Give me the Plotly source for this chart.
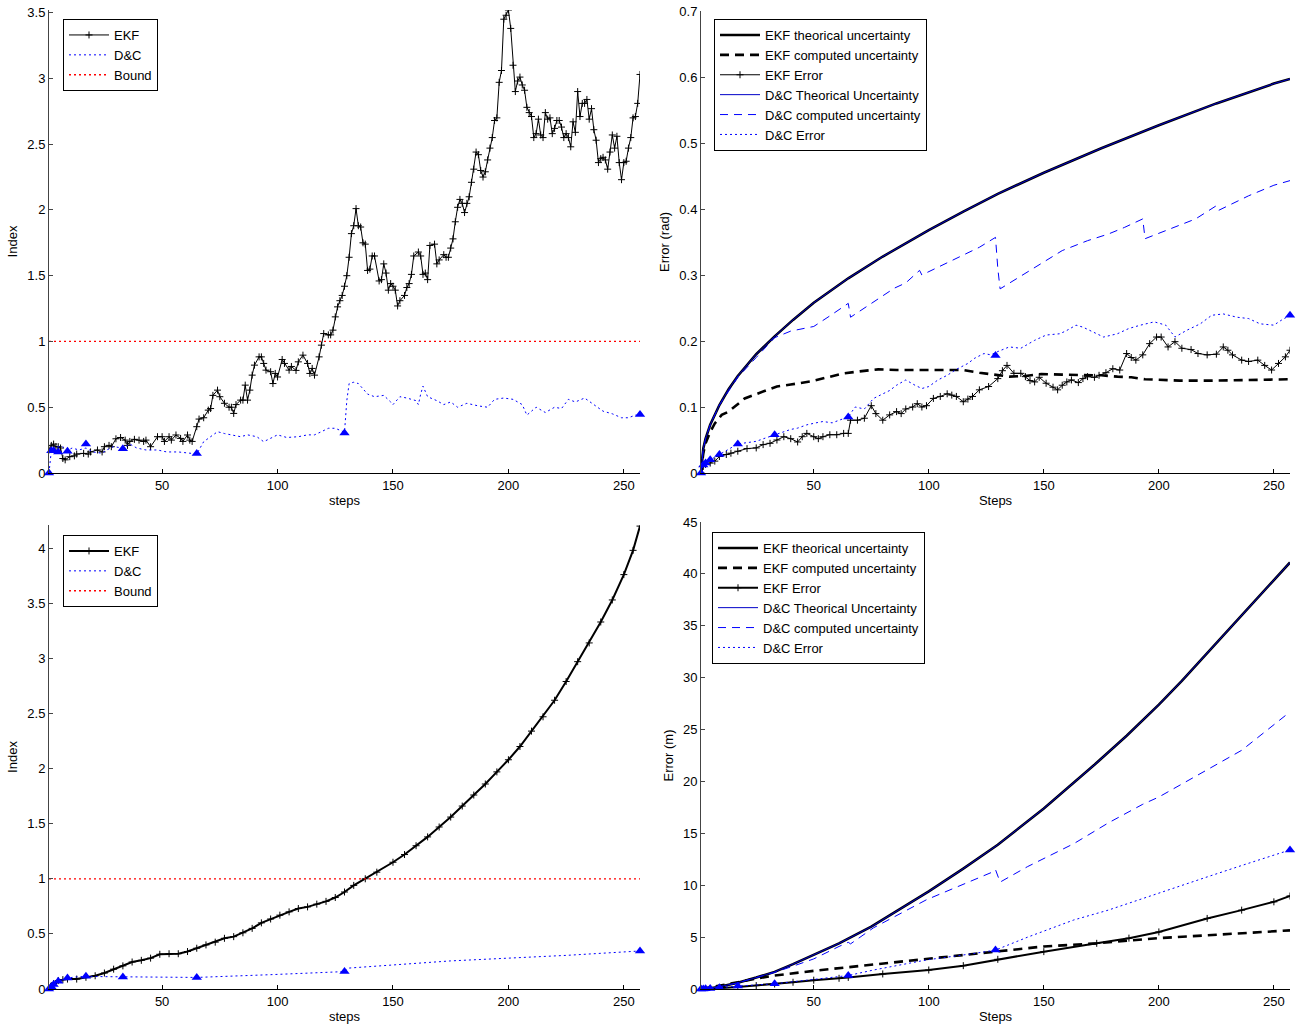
import plotly.graph_objects as go

# ---------------- data ----------------
MARK_STEPS = [1, 2, 3, 5, 9, 17, 33, 65, 129, 257]
BOUND_STEPS = [1, 257]
BOUND_VALUES = [1, 1]

# Top-left: index per step
TL_EKF_STEPS = [1, 2, 3, 4, 5, 6, 7, 8, 10, 12, 13, 16, 18, 19, 22, 24, 25, 27, 28, 30, 32, 34, 35, 36, 38, 40, 42, 43, 45, 48,
                50, 51, 53, 54, 56, 58, 59, 61, 62, 63, 65, 66, 68, 70, 71, 72, 74, 75, 77, 79, 80, 81, 82, 84, 85, 86, 87, 88, 89, 90,
                92, 93, 94, 95, 97, 98, 99, 100, 102, 103, 105, 106, 108, 109, 111, 113, 114, 115, 116, 118, 119, 120, 122, 123, 124, 125, 126, 127,
                128, 129, 130, 131, 132, 133, 134, 135, 136, 137, 138, 139, 140, 141, 142, 144, 145, 146, 147, 148, 149, 150, 151, 152, 153, 155,
                156, 157, 158, 159, 161, 162, 163, 164, 165, 166, 168, 169, 170, 172, 173, 174, 175] + list(range(176, 258))
TL_EKF_VALUES = [0.175, 0.21, 0.22, 0.2, 0.2, 0.19, 0.11, 0.1, 0.124, 0.13, 0.144, 0.149, 0.144, 0.16, 0.175, 0.16, 0.2, 0.21, 0.2, 0.26,
                 0.27, 0.25, 0.21, 0.24, 0.256, 0.25, 0.24, 0.25, 0.2, 0.276, 0.276, 0.24, 0.276, 0.25, 0.289, 0.263, 0.24, 0.289, 0.25, 0.24,
                 0.352, 0.41, 0.42, 0.478, 0.49, 0.59, 0.63, 0.58, 0.53, 0.5, 0.5, 0.453, 0.52, 0.554, 0.554, 0.668, 0.554, 0.63, 0.744, 0.82,
                 0.883, 0.883, 0.833, 0.782, 0.77, 0.68, 0.757, 0.73, 0.863, 0.833, 0.782, 0.81, 0.78, 0.845, 0.896, 0.833, 0.757, 0.795, 0.744, 0.883,
                 0.972, 1.06, 1.05, 1.05, 1.086, 1.187, 1.263, 1.31,
                 1.35, 1.42, 1.5, 1.64, 1.82, 1.88, 2.01, 1.88, 1.87, 1.75, 1.74, 1.54, 1.55, 1.65, 1.65, 1.46, 1.47, 1.59, 1.52, 1.39,
                 1.44, 1.42, 1.39, 1.27, 1.31, 1.35, 1.41, 1.44, 1.51, 1.65, 1.68, 1.65, 1.51, 1.52, 1.47, 1.73, 1.74, 1.59, 1.62, 1.66,
                 1.64, 1.64, 1.71,
                 1.78, 1.91, 2.02, 2.08, 2.05, 1.98, 2.05, 2.10, 2.21, 2.31, 2.44, 2.42, 2.30, 2.25, 2.29, 2.38, 2.47, 2.55, 2.68, 2.70,
                 2.97, 3.06, 3.45, 3.48, 3.52, 3.38, 3.10, 2.90, 2.98, 3.01, 2.95, 2.91, 2.78, 2.74, 2.71, 2.55, 2.58, 2.69, 2.57, 2.55,
                 2.74, 2.69, 2.70, 2.58, 2.62, 2.68, 2.68, 2.63, 2.55, 2.58, 2.55, 2.48, 2.67, 2.59, 2.90, 2.71, 2.81, 2.81, 2.84, 2.69,
                 2.77, 2.61, 2.53, 2.36, 2.39, 2.40, 2.38, 2.31, 2.44, 2.57, 2.47, 2.56, 2.36, 2.23, 2.36, 2.37, 2.47, 2.55, 2.70, 2.71,
                 2.81, 3.03]
TL_DC_STEPS = [1, 2, 4, 7, 9, 11, 14, 17, 20, 24, 26, 29, 33, 36, 39, 43, 48, 52, 57, 61, 65, 68, 71, 74, 77, 80, 84, 87, 91, 94,
               97, 100, 104, 109, 113, 116, 119, 122, 125, 127, 129, 130, 131, 133, 135, 137, 139, 142, 146, 149, 150, 153, 156, 160, 161, 162,
               163, 165, 169, 172, 175, 178, 182, 187, 191, 194, 198, 202, 206, 208, 212, 216, 220, 223, 226, 229, 233, 237, 241, 245,
               249, 252, 255, 257]
TL_DC_VALUES = [0, 0.17, 0.2, 0.2, 0.17, 0.19, 0.175, 0.19, 0.16, 0.15, 0.175, 0.2, 0.19, 0.22, 0.19, 0.175, 0.175, 0.16, 0.16, 0.15,
                0.145, 0.238, 0.276, 0.314, 0.3, 0.29, 0.276, 0.29, 0.276, 0.238, 0.263, 0.29, 0.27, 0.276, 0.29, 0.29, 0.314, 0.34, 0.34, 0.327,
                0.31, 0.55, 0.68, 0.69, 0.68, 0.64, 0.6, 0.58, 0.59, 0.54, 0.52, 0.58, 0.57, 0.55, 0.52, 0.6,
                0.66, 0.58, 0.55, 0.52, 0.54, 0.5, 0.53, 0.51, 0.5, 0.56, 0.57, 0.56, 0.52, 0.44, 0.5, 0.46, 0.5, 0.49, 0.56, 0.54,
                0.57, 0.52, 0.47, 0.45, 0.42, 0.42, 0.44, 0.44]
TL_MARK_VALUES = [0, 0.17, 0.17, 0.16, 0.165, 0.22, 0.185, 0.148, 0.305, 0.445]

# Top-right: angular error (rad)
TR_THEO_STEPS = [1, 2, 3, 5, 9, 13, 17, 25, 33, 41, 50, 65, 80, 100, 115, 130, 150, 175, 200, 225, 250, 257]
TR_EKF_THEO = [0, 0.037, 0.052, 0.073, 0.103, 0.127, 0.147, 0.18, 0.207, 0.232, 0.258, 0.295, 0.328, 0.368, 0.396, 0.423,
               0.455, 0.492, 0.527, 0.56, 0.59, 0.597]
TR_DC_THEO = [0, 0.037, 0.052, 0.073, 0.103, 0.127, 0.147, 0.18, 0.207, 0.232, 0.258, 0.295, 0.328, 0.368, 0.396, 0.423,
              0.455, 0.492, 0.527, 0.56, 0.59, 0.597]
TR_EKF_COMP_STEPS = [1, 2, 3, 5, 7, 10, 13, 20, 30, 34, 40, 49, 56, 63, 70, 78, 86, 95, 104, 115, 122, 130, 135, 142, 149,
                     158, 167, 175, 182, 188, 194, 200, 209, 223, 237, 247, 257]
TR_EKF_COMP = [0, 0.03, 0.045, 0.062, 0.075, 0.088, 0.093, 0.113, 0.126, 0.131, 0.134, 0.139, 0.145, 0.151, 0.154, 0.157, 0.156,
               0.156, 0.157, 0.156, 0.152, 0.148, 0.146, 0.147, 0.15, 0.149, 0.148, 0.148, 0.146, 0.145, 0.142, 0.141, 0.14, 0.14,
               0.141, 0.142, 0.142]
TR_EKF_ERR_STEPS = [1, 2, 3, 5, 7, 9, 12, 14, 17, 21, 25, 28, 31, 34, 37, 40, 43, 45, 47, 50, 52, 54, 57, 60, 63, 65, 66, 69, 72, 75,
                    77, 80, 83, 86, 88, 90, 93, 95, 97, 99, 102, 105, 108, 110, 112, 115, 117, 119, 122, 126, 130, 132, 134, 137, 140,
                    142, 144, 146, 148, 151, 154, 156, 158, 160, 162, 165, 167, 169, 172, 174, 177, 180, 183, 186, 188, 190, 193, 196,
                    199, 201, 204, 207, 210, 214, 217, 221, 225, 228, 230, 232, 236, 239, 243, 246, 249, 252, 255, 257]
TR_EKF_ERR = [0, 0.01, 0.013, 0.015, 0.018, 0.025, 0.028, 0.03, 0.033, 0.037, 0.038, 0.043, 0.045, 0.05, 0.055, 0.052, 0.047, 0.055,
              0.06, 0.055, 0.052, 0.055, 0.058, 0.058, 0.06, 0.06, 0.08, 0.08, 0.083, 0.102, 0.09, 0.08, 0.088, 0.093, 0.09, 0.097,
              0.1, 0.105, 0.1, 0.102, 0.113, 0.116, 0.12, 0.118, 0.116, 0.108, 0.112, 0.116, 0.126, 0.131, 0.143, 0.155, 0.163, 0.151,
              0.151, 0.146, 0.14, 0.138, 0.145, 0.136, 0.13, 0.126, 0.133, 0.138, 0.141, 0.137, 0.143, 0.146, 0.145, 0.148, 0.152,
              0.158, 0.156, 0.181, 0.175, 0.171, 0.179, 0.196, 0.206, 0.206, 0.191, 0.199, 0.189, 0.187, 0.181, 0.179, 0.18, 0.191,
              0.186, 0.179, 0.171, 0.169, 0.171, 0.163, 0.156, 0.166, 0.176, 0.186]
TR_DC_COMP_STEPS = [1, 2, 3, 5, 9, 13, 17, 25, 33, 40, 50, 57, 65, 66, 72, 79, 85, 90, 96, 97, 104, 115, 122, 129, 130, 131, 147,
                    158, 169, 178, 185, 193, 194, 205, 216, 225, 226, 239, 250, 257]
TR_DC_COMP = [0, 0.037, 0.052, 0.073, 0.103, 0.125, 0.145, 0.175, 0.205, 0.215, 0.222, 0.238, 0.257, 0.236, 0.25, 0.265, 0.28,
              0.288, 0.307, 0.3, 0.312, 0.33, 0.342, 0.357, 0.31, 0.279, 0.314, 0.337, 0.352, 0.362, 0.372, 0.385, 0.355, 0.37,
              0.385, 0.405, 0.398, 0.42, 0.436, 0.443]
TR_DC_ERR_STEPS = [1, 2, 3, 5, 7, 9, 13, 17, 21, 25, 29, 33, 37, 40, 43, 47, 51, 54, 58, 61, 65, 68, 72, 76, 79, 83, 86, 90, 94,
                   97, 100, 104, 108, 112, 117, 120, 124, 127, 130, 135, 140, 146, 151, 157, 160, 164, 167, 173, 176, 182, 187, 192,
                   198, 203, 207, 212, 218, 223, 228, 234, 239, 244, 250, 253, 257]
TR_DC_ERR = [0, 0.012, 0.015, 0.02, 0.024, 0.028, 0.036, 0.044, 0.046, 0.048, 0.053, 0.058, 0.063, 0.066, 0.068, 0.073, 0.076,
             0.078, 0.076, 0.08, 0.085, 0.1, 0.097, 0.113, 0.118, 0.125, 0.133, 0.141, 0.133, 0.128, 0.131, 0.141, 0.148, 0.157,
             0.166, 0.174, 0.181, 0.179, 0.184, 0.191, 0.189, 0.201, 0.209, 0.211, 0.216, 0.224, 0.221, 0.211, 0.206, 0.211, 0.219,
             0.224, 0.229, 0.224, 0.206, 0.216, 0.226, 0.239, 0.241, 0.236, 0.234, 0.226, 0.224, 0.231, 0.239]
TR_MARK_VALUES = [0, 0.012, 0.015, 0.02, 0.028, 0.044, 0.058, 0.085, 0.178, 0.239]

# Bottom-left: index per step
BL_EKF_STEPS = [1, 2, 3, 5, 7, 9, 13, 17, 21, 25, 29, 33, 37, 41, 45, 49, 53, 57, 61, 65, 69, 73, 77, 81, 85, 89, 93, 97, 101,
                105, 109, 113, 117, 121, 125, 129, 133, 138, 143, 150, 155, 160, 165, 170, 175, 180, 185, 190, 195, 200, 205, 210,
                215, 220, 225, 230, 235, 240, 245, 250, 254, 257]
BL_EKF_VALUES = [0.01, 0.03, 0.05, 0.076, 0.085, 0.09, 0.09, 0.106, 0.12, 0.145, 0.18, 0.21, 0.245, 0.26, 0.28, 0.315, 0.32, 0.32,
                 0.34, 0.37, 0.4, 0.425, 0.46, 0.475, 0.51, 0.55, 0.6, 0.635, 0.67, 0.7, 0.73, 0.745, 0.77, 0.795, 0.83, 0.88, 0.94,
                 1.0, 1.06, 1.15, 1.22, 1.3, 1.38, 1.47, 1.56, 1.66, 1.76, 1.86, 1.97, 2.08, 2.2, 2.34, 2.47, 2.62, 2.79, 2.97, 3.14,
                 3.33, 3.53, 3.76, 3.98, 4.2]
BL_DC_STEPS = [1, 2, 3, 5, 9, 13, 17, 25, 33, 49, 65, 97, 129, 131, 150, 175, 200, 225, 257]
BL_DC_VALUES = [0, 0.02, 0.04, 0.07, 0.1, 0.11, 0.115, 0.112, 0.11, 0.11, 0.105, 0.13, 0.158, 0.19, 0.22, 0.255, 0.28, 0.305, 0.345]
BL_MARK_VALUES = [0, 0.02, 0.04, 0.07, 0.1, 0.115, 0.11, 0.105, 0.158, 0.345]

# Bottom-right: position error (m)
BR_THEO_STEPS = [1, 3, 5, 9, 17, 25, 33, 41, 50, 61, 75, 90, 100, 115, 130, 150, 172, 186, 200, 210, 225, 240, 250, 257]
BR_EKF_THEO = [0, 0.03, 0.08, 0.22, 0.6, 1.1, 1.65, 2.4, 3.3, 4.4, 6.0, 8.0, 9.4, 11.6, 13.9, 17.4, 21.6, 24.4, 27.4, 29.7, 33.3,
               37.0, 39.4, 41.1]
BR_DC_THEO = [0, 0.03, 0.08, 0.22, 0.6, 1.1, 1.65, 2.4, 3.3, 4.4, 6.0, 8.0, 9.4, 11.6, 13.9, 17.4, 21.6, 24.4, 27.4, 29.7, 33.3,
              37.0, 39.4, 41.1]
BR_EKF_COMP_STEPS = [1, 5, 9, 17, 25, 33, 50, 61, 65, 80, 100, 115, 129, 150, 173, 200, 221, 240, 257]
BR_EKF_COMP = [0, 0.15, 0.3, 0.65, 1.0, 1.3, 1.75, 2.0, 2.1, 2.5, 2.95, 3.3, 3.6, 4.1, 4.4, 4.9, 5.2, 5.45, 5.65]
BR_EKF_ERR_STEPS = [1, 5, 9, 17, 25, 33, 41, 50, 61, 65, 80, 100, 115, 130, 150, 173, 187, 200, 221, 236, 250, 257]
BR_EKF_ERR = [0, 0.03, 0.08, 0.2, 0.33, 0.48, 0.65, 0.85, 1.03, 1.12, 1.45, 1.83, 2.25, 2.86, 3.6, 4.4, 4.9, 5.5, 6.8, 7.6, 8.4, 8.96]
BR_DC_COMP_STEPS = [1, 5, 9, 17, 25, 33, 41, 50, 61, 65, 66, 76, 99, 116, 128, 129, 131, 143, 163, 178, 193, 200, 221, 236, 257]
BR_DC_COMP = [0, 0.08, 0.22, 0.6, 1.1, 1.6, 2.2, 2.9, 4.1, 4.5, 4.35, 5.9, 8.6, 10.2, 11.3, 11.5, 10.3, 11.8, 14.0, 16.0, 17.8,
              18.5, 21.1, 23.0, 26.7]
BR_DC_ERR_STEPS = [1, 2, 3, 5, 9, 17, 25, 33, 41, 50, 65, 76, 99, 119, 129, 143, 163, 178, 200, 221, 236, 257]
BR_DC_ERR = [0, 0.01, 0.03, 0.06, 0.12, 0.28, 0.38, 0.5, 0.7, 0.95, 1.3, 1.83, 2.8, 3.4, 3.75, 5.0, 6.65, 7.6, 9.2, 10.8, 11.9, 13.4]
BR_MARK_VALUES = [0, 0.01, 0.03, 0.06, 0.12, 0.28, 0.5, 1.3, 3.75, 13.4]

# ---------------- styling ----------------
FONT = "Liberation Sans, Arial, Helvetica, sans-serif"
FS = 13
BLUE = "#0000ff"
RED = "#ff0000"
DOT = "2px,3px"

fig = go.Figure()


def line(x, y, ax, leg, name, color, width, dash="solid", marker=None, showlegend=True):
    xa, ya = ax
    kw = dict(x=x, y=y, xaxis=xa, yaxis=ya, name=name, legend=leg, showlegend=showlegend,
              line=dict(color=color, width=width, dash=dash))
    if marker:
        kw["mode"] = "lines+markers"
        kw["marker"] = dict(symbol="cross-thin", size=5, line=dict(width=1, color=color), color=color)
    else:
        kw["mode"] = "lines"
    fig.add_trace(go.Scatter(**kw))


def tri(y, ax):
    xa, ya = ax
    fig.add_trace(go.Scatter(x=MARK_STEPS, y=y, xaxis=xa, yaxis=ya, mode="markers", showlegend=False,
                             cliponaxis=False, hoverinfo="skip",
                             marker=dict(symbol="triangle-up", size=9, color=BLUE, line=dict(width=0))))


TL, TR, BL, BR = ("x", "y"), ("x2", "y2"), ("x3", "y3"), ("x4", "y4")

# top-left
line(TL_EKF_STEPS, TL_EKF_VALUES, TL, "legend", "EKF", "black", 1, marker=True)
line(TL_DC_STEPS, TL_DC_VALUES, TL, "legend", "D&C", BLUE, 1, dash=DOT)
line(BOUND_STEPS, BOUND_VALUES, TL, "legend", "Bound", RED, 1.3, dash=DOT)
tri(TL_MARK_VALUES, TL)

# top-right
line(TR_THEO_STEPS, TR_EKF_THEO, TR, "legend2", "EKF theorical uncertainty", "black", 2.6)
line(TR_EKF_COMP_STEPS, TR_EKF_COMP, TR, "legend2", "EKF computed uncertainty", "black", 2.6, dash="9px,6px")
line(TR_EKF_ERR_STEPS, TR_EKF_ERR, TR, "legend2", "EKF Error", "black", 1, marker=True)
line(TR_THEO_STEPS, TR_DC_THEO, TR, "legend2", "D&C Theorical Uncertainty", "#0000c8", 1)
line(TR_DC_COMP_STEPS, TR_DC_COMP, TR, "legend2", "D&C computed uncertainty", BLUE, 1, dash="8px,6px")
line(TR_DC_ERR_STEPS, TR_DC_ERR, TR, "legend2", "D&C Error", BLUE, 1, dash=DOT)
tri(TR_MARK_VALUES, TR)

# bottom-left
line(BL_EKF_STEPS, BL_EKF_VALUES, BL, "legend3", "EKF", "black", 2, marker=True)
line(BL_DC_STEPS, BL_DC_VALUES, BL, "legend3", "D&C", BLUE, 1, dash=DOT)
line(BOUND_STEPS, BOUND_VALUES, BL, "legend3", "Bound", RED, 1.3, dash=DOT)
tri(BL_MARK_VALUES, BL)

# bottom-right
line(BR_THEO_STEPS, BR_EKF_THEO, BR, "legend4", "EKF theorical uncertainty", "black", 2.6)
line(BR_EKF_COMP_STEPS, BR_EKF_COMP, BR, "legend4", "EKF computed uncertainty", "black", 2.6, dash="9px,6px")
line(BR_EKF_ERR_STEPS, BR_EKF_ERR, BR, "legend4", "EKF Error", "black", 2, marker=True)
line(BR_THEO_STEPS, BR_DC_THEO, BR, "legend4", "D&C Theorical Uncertainty", "#0000c8", 1)
line(BR_DC_COMP_STEPS, BR_DC_COMP, BR, "legend4", "D&C computed uncertainty", BLUE, 1, dash="8px,6px")
line(BR_DC_ERR_STEPS, BR_DC_ERR, BR, "legend4", "D&C Error", BLUE, 1, dash=DOT)
tri(BR_MARK_VALUES, BR)

W, H = 1296, 1025


def xdom(l, r):
    return [l / W, r / W]


def ydom(top, bottom):
    return [1 - bottom / H, 1 - top / H]


def xaxis(dom, anchor, title):
    return dict(domain=dom, anchor=anchor, range=[1, 257], tickvals=[50, 100, 150, 200, 250], automargin=False,
                showline=True, linecolor="black", linewidth=1, ticks="inside", ticklen=4, tickcolor="black",
                showgrid=False, zeroline=False, tickfont=dict(family=FONT, size=FS, color="black"),
                title=dict(text=title, font=dict(family=FONT, size=FS, color="black"), standoff=4))


def yaxis(dom, anchor, rng, dtick, title):
    return dict(domain=dom, anchor=anchor, range=rng, dtick=dtick, tick0=0, automargin=False,
                showline=True, linecolor="#444444", linewidth=1, ticks="inside", ticklen=4, tickcolor="#444444",
                showgrid=False, zeroline=False, tickfont=dict(family=FONT, size=FS, color="black"),
                title=dict(text=title, font=dict(family=FONT, size=FS, color="black"), standoff=6))


def legend(x, y):
    return dict(x=x / W, y=1 - y / H, xanchor="left", yanchor="top", bgcolor="white",
                bordercolor="black", borderwidth=1, font=dict(family=FONT, size=FS, color="black"),
                itemwidth=40, tracegroupgap=0)


fig.update_layout(
    width=W, height=H, margin=dict(l=0, r=0, t=0, b=0, autoexpand=False),
    paper_bgcolor="white", plot_bgcolor="white",
    font=dict(family=FONT, size=FS, color="black"),
    xaxis=xaxis(xdom(49, 640), "y", "steps"),
    yaxis=yaxis(ydom(10, 473), "x", [0, 3.52], 0.5, "Index"),
    xaxis2=xaxis(xdom(701, 1290), "y2", "Steps"),
    yaxis2=yaxis(ydom(11, 473), "x2", [0, 0.7], 0.1, "Error (rad)"),
    xaxis3=xaxis(xdom(49, 640), "y3", "steps"),
    yaxis3=yaxis(ydom(525, 989), "x3", [0, 4.21], 0.5, "Index"),
    xaxis4=xaxis(xdom(701, 1290), "y4", "Steps"),
    yaxis4=yaxis(ydom(522, 989), "x4", [0, 45], 5, "Error (m)"),
    legend=legend(63, 19),
    legend2=legend(714, 19),
    legend3=legend(63, 535),
    legend4=legend(712, 532),
)

fig.write_html("out.html", config={"displayModeBar": False},
               post_script="document.body.style.margin='0';document.body.style.overflow='hidden';")
